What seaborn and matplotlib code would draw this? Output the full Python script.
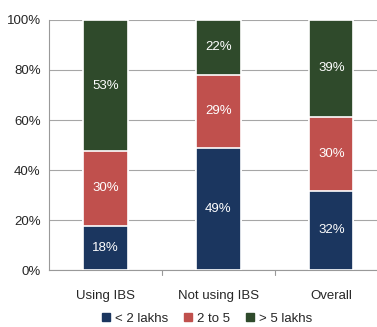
import matplotlib
matplotlib.use("Agg")
import matplotlib.pyplot as plt
import seaborn as sns
import pandas as pd
import numpy as np

categories = ["Using IBS", "Not using IBS", "Overall"]
series = ["< 2 lakhs", "2 to 5", "> 5 lakhs"]
low = [18, 49, 32]
mid = [30, 29, 30]
high = [53, 22, 39]
colors = ["#1B365F", "#C0504D", "#2F4A2B"]

sns.set_style("white")
plt.rcParams["font.family"] = ["Liberation Sans Narrow", "Liberation Sans", "DejaVu Sans"]

vals = np.array([low, mid, high], dtype=float)
shares = vals / vals.sum(axis=0)  # 100% stacked
cum = shares.cumsum(axis=0)

fig = plt.figure(figsize=(3.77, 3.27), dpi=100)
ax = fig.add_axes([0.130, 0.174, 0.899, 0.765])

# draw from top of stack down so lower segments overlay
for i in range(2, -1, -1):
    df = pd.DataFrame({"cat": categories, "val": cum[i]})
    sns.barplot(data=df, x="cat", y="val", color=colors[i], width=0.39,
                edgecolor="white", linewidth=1.2, saturation=1, ax=ax, zorder=3)

for j, cat in enumerate(categories):
    for i in range(3):
        bottom = cum[i - 1][j] if i > 0 else 0
        ax.text(j, bottom + shares[i][j] / 2, f"{int(vals[i][j])}%", ha="center",
                va="center", color="white", fontsize=9.5, zorder=4)

ax.set_ylim(0, 1)
ax.set_xlim(-0.5, 2.5)
ax.set_yticks(np.arange(0, 1.01, 0.2))
ax.set_yticklabels([f"{int(t*100)}%" for t in np.arange(0, 1.01, 0.2)], fontsize=9.5)
ax.set_xticks(range(3))
ax.set_xticklabels(categories, fontsize=9.5)
ax.tick_params(axis="x", length=0, pad=14)
ax.tick_params(axis="y", length=4, pad=2, color="#888888")
for t in [0.5, 1.5]:
    ax.plot([t, t], [0, -0.02], color="#999999", lw=0.8, clip_on=False)
ax.yaxis.grid(True, color="#A6A6A6", lw=0.8, zorder=0)
ax.set_axisbelow(True)
ax.set_xlabel("")
ax.set_ylabel("")
for s in ["top", "right"]:
    ax.spines[s].set_visible(False)
ax.spines["left"].set_color("#999999")
ax.spines["bottom"].set_color("#999999")

handles = [plt.Rectangle((0, 0), 1, 1, color=c) for c in colors]
fig.legend(handles, series, loc="center", bbox_to_anchor=(0.55, 0.025), ncol=3,
           frameon=False, fontsize=9.5, handlelength=0.6, handleheight=0.6,
           handletextpad=0.4, columnspacing=1.2)

fig.savefig("out.png", dpi=100)
